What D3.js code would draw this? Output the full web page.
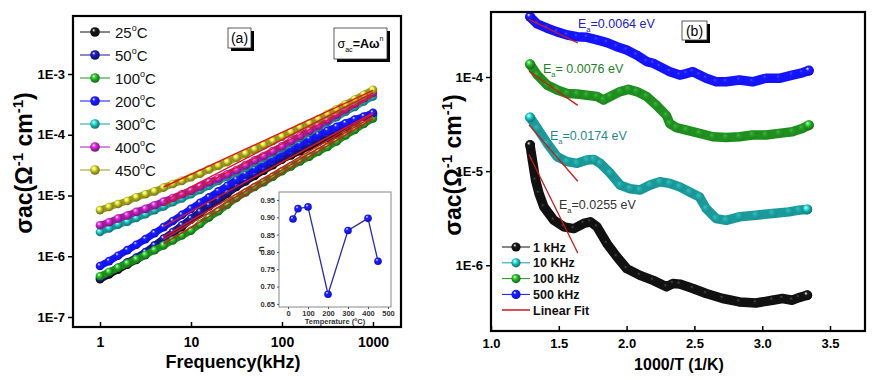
<!DOCTYPE html>
<html><head><meta charset="utf-8">
<script src="https://cdn.jsdelivr.net/npm/d3@7"></script>
<style>body{margin:0;background:#fff}svg{display:block}text{font-family:Arial,"Liberation Sans",sans-serif}</style>
</head><body><svg id="c" width="886" height="378"></svg>
<script>
// ---------- Panel (a) data ----------
const freqs=[1,1.26,1.58,2,2.51,3.16,3.98,5.01,6.31,7.94,10,12.6,15.8,20,25.1,31.6,39.8,50.1,63.1,79.4,100,126,158,200,251,316,398,501,631,794,1000];
const s25=[4.17e-7,5.01e-7,6.03e-7,7.24e-7,8.71e-7,1.05e-6,1.38e-6,1.78e-6,2.34e-6,3.02e-6,3.98e-6,5.13e-6,6.61e-6,8.32e-6,1.07e-5,1.38e-5,1.7e-5,2.09e-5,2.57e-5,3.16e-5,3.89e-5,4.57e-5,5.37e-5,6.46e-5,7.59e-5,8.91e-5,1.05e-4,1.23e-4,1.48e-4,1.74e-4,2.04e-4];
const s50=[4.37e-7,5.37e-7,6.46e-7,7.94e-7,9.55e-7,1.17e-6,1.51e-6,1.95e-6,2.51e-6,3.24e-6,4.17e-6,5.37e-6,6.92e-6,8.71e-6,1.12e-5,1.45e-5,1.78e-5,2.24e-5,2.75e-5,3.47e-5,4.27e-5,5.01e-5,6.03e-5,7.08e-5,8.51e-5,1.0e-4,1.17e-4,1.38e-4,1.58e-4,1.86e-4,2.19e-4];
const s100=[4.68e-7,5.5e-7,6.46e-7,7.59e-7,8.91e-7,1.05e-6,1.26e-6,1.51e-6,1.82e-6,2.19e-6,2.63e-6,3.39e-6,4.37e-6,5.5e-6,7.08e-6,9.12e-6,1.12e-5,1.38e-5,1.66e-5,2.04e-5,2.51e-5,3.02e-5,3.63e-5,4.37e-5,5.25e-5,6.31e-5,7.76e-5,9.77e-5,1.2e-4,1.51e-4,1.86e-4];
const s200=[6.92e-7,8.32e-7,1.02e-6,1.26e-6,1.55e-6,1.91e-6,2.4e-6,3.02e-6,3.8e-6,4.79e-6,6.03e-6,7.59e-6,9.33e-6,1.17e-5,1.45e-5,1.82e-5,2.24e-5,2.75e-5,3.39e-5,4.07e-5,5.01e-5,6.03e-5,7.08e-5,8.51e-5,1.0e-4,1.17e-4,1.35e-4,1.55e-4,1.78e-4,2.0e-4,2.29e-4];
const s300=[2.51e-6,2.88e-6,3.31e-6,3.72e-6,4.27e-6,4.9e-6,5.75e-6,6.61e-6,7.76e-6,8.91e-6,1.05e-5,1.23e-5,1.45e-5,1.74e-5,2.04e-5,2.4e-5,2.88e-5,3.47e-5,4.17e-5,5.01e-5,6.03e-5,7.41e-5,8.91e-5,1.1e-4,1.32e-4,1.62e-4,1.95e-4,2.4e-4,2.88e-4,3.55e-4,4.27e-4];
const s400=[3.24e-6,3.63e-6,4.17e-6,4.68e-6,5.37e-6,6.03e-6,6.92e-6,7.94e-6,9.12e-6,1.05e-5,1.2e-5,1.41e-5,1.66e-5,1.91e-5,2.24e-5,2.63e-5,3.16e-5,3.8e-5,4.47e-5,5.37e-5,6.46e-5,7.94e-5,9.55e-5,1.17e-4,1.41e-4,1.74e-4,2.14e-4,2.63e-4,3.24e-4,3.98e-4,4.9e-4];
const s450=[5.75e-6,6.46e-6,7.24e-6,8.13e-6,9.33e-6,1.05e-5,1.17e-5,1.35e-5,1.55e-5,1.74e-5,2.0e-5,2.29e-5,2.69e-5,3.09e-5,3.55e-5,4.17e-5,4.9e-5,5.75e-5,6.76e-5,7.94e-5,9.33e-5,1.1e-4,1.32e-4,1.55e-4,1.82e-4,2.19e-4,2.63e-4,3.16e-4,3.8e-4,4.57e-4,5.5e-4];
const tempLabels=['25','50','100','200','300','400','450'];
const fitFreqA=[5,1000];
const fitsA=[[1.9e-6,2.0e-4],[2.1e-6,2.2e-4],[1.6e-6,1.85e-4],[3.1e-6,2.3e-4],[6.8e-6,4.3e-4],[8.1e-6,4.9e-4],[1.38e-5,5.4e-4]];
const yTicksA=[1e-7,1e-6,1e-5,1e-4,1e-3];
const xTicksA=[1,10,100,1000];
// inset
const insetTemp=[25,50,100,200,300,400,450];
const insetN=[0.895,0.925,0.93,0.678,0.862,0.897,0.773];
const insetYTicks=[0.65,0.70,0.75,0.80,0.85,0.90,0.95];
const insetXTicks=[0,100,200,300,400,500];

// ---------- Panel (b) data ----------
const b1x=[1.288,1.305,1.329,1.354,1.390,1.464,1.537,1.611,1.684,1.733,1.782,1.855,1.928,2.001,2.099,2.196,2.294,2.343,2.392,2.489,2.587,2.709,2.832,2.954,3.076,3.149,3.222,3.271,3.332];
const b1v=[1.89e-5,1.31e-5,8.0e-6,5.8e-6,4.17e-6,3.0e-6,2.56e-6,2.45e-6,2.78e-6,2.89e-6,2.56e-6,1.7e-6,1.23e-6,9.2e-7,7.8e-7,6.9e-7,5.9e-7,6.4e-7,6.3e-7,5.65e-7,5.0e-7,4.43e-7,4.07e-7,3.97e-7,4.25e-7,4.43e-7,4.25e-7,4.53e-7,4.8e-7];
const b10x=[1.288,1.342,1.415,1.488,1.562,1.635,1.708,1.757,1.806,1.879,1.953,2.026,2.099,2.172,2.245,2.319,2.392,2.465,2.538,2.587,2.661,2.734,2.832,2.954,3.076,3.198,3.271,3.332];
const b10v=[3.72e-5,2.84e-5,1.97e-5,1.42e-5,1.26e-5,1.21e-5,1.31e-5,1.33e-5,1.21e-5,9.5e-6,7.1e-6,6.5e-6,6.3e-6,7.1e-6,7.7e-6,7.4e-6,6.8e-6,6.0e-6,5.3e-6,4.0e-6,3.13e-6,3.0e-6,3.27e-6,3.4e-6,3.55e-6,3.69e-6,3.85e-6,3.92e-6];
const b100x=[1.288,1.342,1.415,1.488,1.562,1.635,1.708,1.782,1.830,1.879,1.953,2.014,2.074,2.148,2.221,2.294,2.319,2.367,2.441,2.538,2.636,2.734,2.832,2.929,3.027,3.125,3.222,3.295,3.344];
const b100v=[1.37e-4,1.05e-4,8.2e-5,7.3e-5,6.7e-5,6.6e-5,6.4e-5,6.2e-5,5.7e-5,6.2e-5,7.0e-5,7.4e-5,7.0e-5,6.2e-5,5.0e-5,3.9e-5,3.2e-5,2.9e-5,2.73e-5,2.52e-5,2.32e-5,2.28e-5,2.32e-5,2.42e-5,2.42e-5,2.52e-5,2.62e-5,2.84e-5,3.08e-5];
const b500x=[1.288,1.342,1.415,1.488,1.562,1.635,1.708,1.782,1.855,1.928,2.001,2.074,2.148,2.196,2.245,2.319,2.392,2.441,2.489,2.538,2.587,2.661,2.734,2.832,2.929,3.027,3.125,3.222,3.295,3.344];
const b500v=[4.37e-4,3.66e-4,3.3e-4,3.02e-4,2.8e-4,2.68e-4,2.64e-4,2.48e-4,2.32e-4,2.1e-4,1.94e-4,1.71e-4,1.46e-4,1.4e-4,1.29e-4,1.14e-4,1.05e-4,1.09e-4,1.14e-4,1.05e-4,9.7e-5,8.9e-5,8.9e-5,9.3e-5,8.9e-5,9.7e-5,9.7e-5,1.05e-4,1.11e-4,1.17e-4];
const freqLabelsB=['1 kHz','10 KHz','100 kHz','500 kHz'];
const fitXB=[1.28,1.64];
const fitsB=[[1.5e-5,1.35e-6],[3.1e-5,7.8e-6],[1.15e-4,5.0e-5],[4.1e-4,2.3e-4]];
const eaLabels=['=0.0255 eV','=0.0174 eV','= 0.0076 eV','=0.0064 eV'];
const yTicksB=[1e-6,1e-5,1e-4];
const xTicksB=[1.0,1.5,2.0,2.5,3.0,3.5];

// ---------- setup ----------
const svg=d3.select('#c');
const defs=svg.append('defs');
function grad(id,color){
  const c=d3.color(color);
  const g=defs.append('radialGradient').attr('id',id).attr('cx','45%').attr('cy','42%').attr('r','60%').attr('fx','35%').attr('fy','30%');
  g.append('stop').attr('offset','0%').attr('stop-color','#ffffff');
  g.append('stop').attr('offset','30%').attr('stop-color',c.brighter(1.2).formatHex());
  g.append('stop').attr('offset','65%').attr('stop-color',color);
  g.append('stop').attr('offset','100%').attr('stop-color',c.darker(1).formatHex());
}
const colA=['#111111','#16168a','#1f8f1f','#1414ff','#1a9a9a','#a01ea0','#9c9c22'];
colA.forEach((c,i)=>grad('ga'+i,c));
const colB=['#111111','#1a9a9a','#1f8f1f','#1414ff'];
colB.forEach((c,i)=>grad('gb'+i,c));
const fitRed='#e01818';

// ---------- Panel (a) ----------
const L={l:73,r:401,t:16,b:327};
const xA=d3.scaleLog().domain([0.505,2032]).range([L.l,L.r]);
const yA=d3.scaleLog().domain([6.84e-8,9.02e-3]).range([L.b,L.t]);
const gA=svg.append('g');
const seriesA=[s25,s50,s100,s200,s300,s400,s450];
const lineA=d3.line().x((d,i)=>xA(freqs[i])).y(d=>yA(d));
seriesA.forEach((s,k)=>{
  gA.append('path').attr('d',lineA(s)).attr('fill','none').attr('stroke',colA[k]).attr('stroke-width',7).attr('stroke-linecap','round');
  gA.selectAll(null).data(s).enter().append('circle')
    .attr('cx',(d,i)=>xA(freqs[i])).attr('cy',d=>yA(d)).attr('r',4.3).attr('fill','url(#ga'+k+')');
});
fitsA.forEach((f,k)=>{
  gA.append('path').attr('d',d3.line().x((d,i)=>xA(fitFreqA[i])).y(d=>yA(d))(f))
    .attr('fill','none').attr('stroke',fitRed).attr('stroke-width',1.4);
});
// axes
const axYA=svg.append('g').attr('transform',`translate(${L.l},0)`)
  .call(d3.axisLeft(yA).tickValues(yTicksA).tickFormat(d=>'1E'+Math.round(Math.log10(d))).tickSize(5).tickPadding(3));
const axXA=svg.append('g').attr('transform',`translate(0,${L.b})`)
  .call(d3.axisBottom(xA).tickValues(xTicksA).tickFormat(d3.format('d')).tickSize(-5).tickPadding(10));
[axYA,axXA].forEach(a=>{a.select('.domain').remove();a.selectAll('line').attr('stroke','#000').attr('stroke-width',1.5);
  a.selectAll('text').attr('font-weight','bold').attr('font-family','Arial,"Liberation Sans",sans-serif').attr('fill','#000');});
axYA.selectAll('text').attr('font-size',13);
axXA.selectAll('text').attr('font-size',14);
svg.append('rect').attr('x',L.l).attr('y',L.t).attr('width',L.r-L.l).attr('height',L.b-L.t).attr('fill','none').attr('stroke','#000').attr('stroke-width',2.2);

// legend (a)
const legA=svg.append('g');
tempLabels.forEach((t,k)=>{
  const y=32+k*23;
  legA.append('line').attr('x1',80).attr('x2',110).attr('y1',y).attr('y2',y).attr('stroke',colA[k]).attr('stroke-width',1);
  legA.append('circle').attr('cx',95).attr('cy',y).attr('r',4.8).attr('fill','url(#ga'+k+')');
  const tx=legA.append('text').attr('x',115).attr('y',y+5.5).attr('font-size',15).attr('fill','#111');
  tx.append('tspan').text(t);
  tx.append('tspan').attr('font-size',9).attr('dy',-7).text('o');
  tx.append('tspan').attr('dy',7).text('C');
});
// label boxes (a)
function box(x,y,w,h){
  svg.append('rect').attr('x',x+3).attr('y',y+3).attr('width',w).attr('height',h).attr('fill','#000');
  svg.append('rect').attr('x',x).attr('y',y).attr('width',w).attr('height',h).attr('fill','#fff').attr('stroke','#333').attr('stroke-width',0.8);
}
box(228,28,23,20);
svg.append('text').attr('x',239.5).attr('y',43).attr('text-anchor','middle').attr('font-size',14).text('(a)');
box(334,28,53,31);
const eq=svg.append('text').attr('x',337.5).attr('y',48).attr('font-size',12.5);
eq.append('tspan').text('σ');
eq.append('tspan').attr('font-size',7).attr('dy',4).text('ac');
eq.append('tspan').attr('dy',-4).attr('font-weight','bold').text('=Aω');
eq.append('tspan').attr('font-size',7).attr('dy',-7).text('n');
// titles (a)
svg.append('text').attr('x',233).attr('y',368).attr('text-anchor','middle').attr('font-size',18).attr('font-weight','bold').text('Frequency(kHz)');
function yTitle(x,y){
  const t=svg.append('text').attr('transform',`translate(${x},${y}) rotate(-90)`).attr('text-anchor','middle').attr('font-size',23).attr('font-weight','bold');
  t.append('tspan').text('σac(Ω');
  t.append('tspan').attr('font-size',15).attr('dy',-9).text('-1');
  t.append('tspan').attr('dy',9).text(' cm');
  t.append('tspan').attr('font-size',15).attr('dy',-9).text('-1');
  t.append('tspan').attr('dy',9).text(')');
}
yTitle(32,163);

// inset
const I={l:279,r:391,t:192,b:307};
svg.append('rect').attr('x',I.l).attr('y',I.t).attr('width',I.r-I.l).attr('height',I.b-I.t).attr('fill','#fff').attr('stroke','#888').attr('stroke-width',1);
const xI=d3.scaleLinear().domain([-45,515]).range([I.l,I.r]);
const yI=d3.scaleLinear().domain([0.641,0.973]).range([I.b,I.t]);
const axYI=svg.append('g').attr('transform',`translate(${I.l},0)`).call(d3.axisLeft(yI).tickValues(insetYTicks).tickFormat(d3.format('.2f')).tickSize(2).tickPadding(2));
const axXI=svg.append('g').attr('transform',`translate(0,${I.b})`).call(d3.axisBottom(xI).tickValues(insetXTicks).tickFormat(d3.format('d')).tickSize(2).tickPadding(2));
[axYI,axXI].forEach(a=>{a.select('.domain').remove();a.selectAll('line').attr('stroke','#555');
  a.selectAll('text').attr('font-size',7.5).attr('font-weight','bold').attr('fill','#333').attr('font-family','Arial,"Liberation Sans",sans-serif');});
svg.append('path').attr('d',d3.line().x((d,i)=>xI(insetTemp[i])).y(d=>yI(d))(insetN)).attr('fill','none').attr('stroke','#2a2aa8').attr('stroke-width',1.3);
svg.selectAll(null).data(insetN).enter().append('circle').attr('cx',(d,i)=>xI(insetTemp[i])).attr('cy',d=>yI(d)).attr('r',3.8).attr('fill','url(#ga3)');
const tl=svg.append('text').attr('x',335).attr('y',324).attr('text-anchor','middle').attr('font-size',7.5).attr('font-weight','bold').attr('fill','#333');
tl.append('tspan').text('Temperature (');
tl.append('tspan').attr('font-size',5).attr('dy',-3).text('o');
tl.append('tspan').attr('dy',3).text('C)');
svg.append('text').attr('transform','translate(264,249) rotate(-90)').attr('text-anchor','middle').attr('font-size',9).attr('font-weight','bold').attr('fill','#333').text('n');

// ---------- Panel (b) ----------
const R={l:491,r:865,t:12,b:331};
const xB=d3.scaleLinear().domain([1.0,3.758]).range([R.l,R.r]);
const yB=d3.scaleLog().domain([2.0e-7,4.91e-4]).range([R.b,R.t]);
const seriesB=[[b1x,b1v],[b10x,b10v],[b100x,b100v],[b500x,b500v]];
seriesB.forEach(([xs,vs],k)=>{
  const ln=d3.line().x((d,i)=>xB(xs[i])).y(d=>yB(d));
  svg.append('path').attr('d',ln(vs)).attr('fill','none').attr('stroke',colB[k]).attr('stroke-width',9.5).attr('stroke-linecap','round').attr('stroke-linejoin','round');
  svg.selectAll(null).data(vs).enter().append('circle').attr('cx',(d,i)=>xB(xs[i])).attr('cy',d=>yB(d)).attr('r',(d,i)=>(i===0||i===vs.length-1)?5:4.6).attr('fill','url(#gb'+k+')').attr('opacity',(d,i)=>(i===0||i===vs.length-1)?1:0.25);
});
fitsB.forEach(f=>{
  svg.append('path').attr('d',d3.line().x((d,i)=>xB(fitXB[i])).y(d=>yB(d))(f)).attr('fill','none').attr('stroke','#d01818').attr('stroke-width',1.3);
});
const axYB=svg.append('g').attr('transform',`translate(${R.l},0)`)
  .call(d3.axisLeft(yB).tickValues(yTicksB).tickFormat(d=>'1E'+Math.round(Math.log10(d))).tickSize(5).tickPadding(3));
const axXB=svg.append('g').attr('transform',`translate(0,${R.b})`)
  .call(d3.axisBottom(xB).tickValues(xTicksB).tickFormat(d3.format('.1f')).tickSize(-5).tickPadding(8));
[axYB,axXB].forEach(a=>{a.select('.domain').remove();a.selectAll('line').attr('stroke','#000').attr('stroke-width',1.5);
  a.selectAll('text').attr('font-weight','bold').attr('font-size',13).attr('fill','#000').attr('font-family','Arial,"Liberation Sans",sans-serif');});
svg.append('rect').attr('x',R.l).attr('y',R.t).attr('width',R.r-R.l).attr('height',R.b-R.t).attr('fill','none').attr('stroke','#000').attr('stroke-width',2.2);
// legend (b)
freqLabelsB.forEach((t,k)=>{
  const y=247+k*15.8;
  svg.append('line').attr('x1',502).attr('x2',530).attr('y1',y).attr('y2',y).attr('stroke',colB[k]).attr('stroke-width',1);
  svg.append('circle').attr('cx',516).attr('cy',y).attr('r',4.6).attr('fill','url(#gb'+k+')');
  svg.append('text').attr('x',533).attr('y',y+4.5).attr('font-size',12.5).attr('font-weight','bold').attr('fill','#111').text(t);
});
svg.append('line').attr('x1',502).attr('x2',530).attr('y1',310).attr('y2',310).attr('stroke','#d01818').attr('stroke-width',1.5);
svg.append('text').attr('x',533).attr('y',314.5).attr('font-size',12.5).attr('font-weight','bold').attr('fill','#111').text('Linear Fit');
// Ea annotations
const eaPos=[[559,209,'#333333'],[550,140,'#1f8a8a'],[543,73,'#1f7f1f'],[578,28,'#2020c8']];
eaLabels.forEach((t,k)=>{
  const [x,y,c]=eaPos[k];
  const tx=svg.append('text').attr('x',x).attr('y',y).attr('font-size',12.5).attr('fill',c);
  tx.append('tspan').text('E');
  tx.append('tspan').attr('font-size',7.5).attr('dy',4).text('a');
  tx.append('tspan').attr('dy',-4).text(t);
});
box(682,21,25,19);
svg.append('text').attr('x',694.5).attr('y',35.5).attr('text-anchor','middle').attr('font-size',14).text('(b)');
svg.append('text').attr('x',679).attr('y',370).attr('text-anchor','middle').attr('font-size',16).attr('font-weight','bold').text('1000/T (1/K)');
yTitle(461,165);
</script></body></html>
